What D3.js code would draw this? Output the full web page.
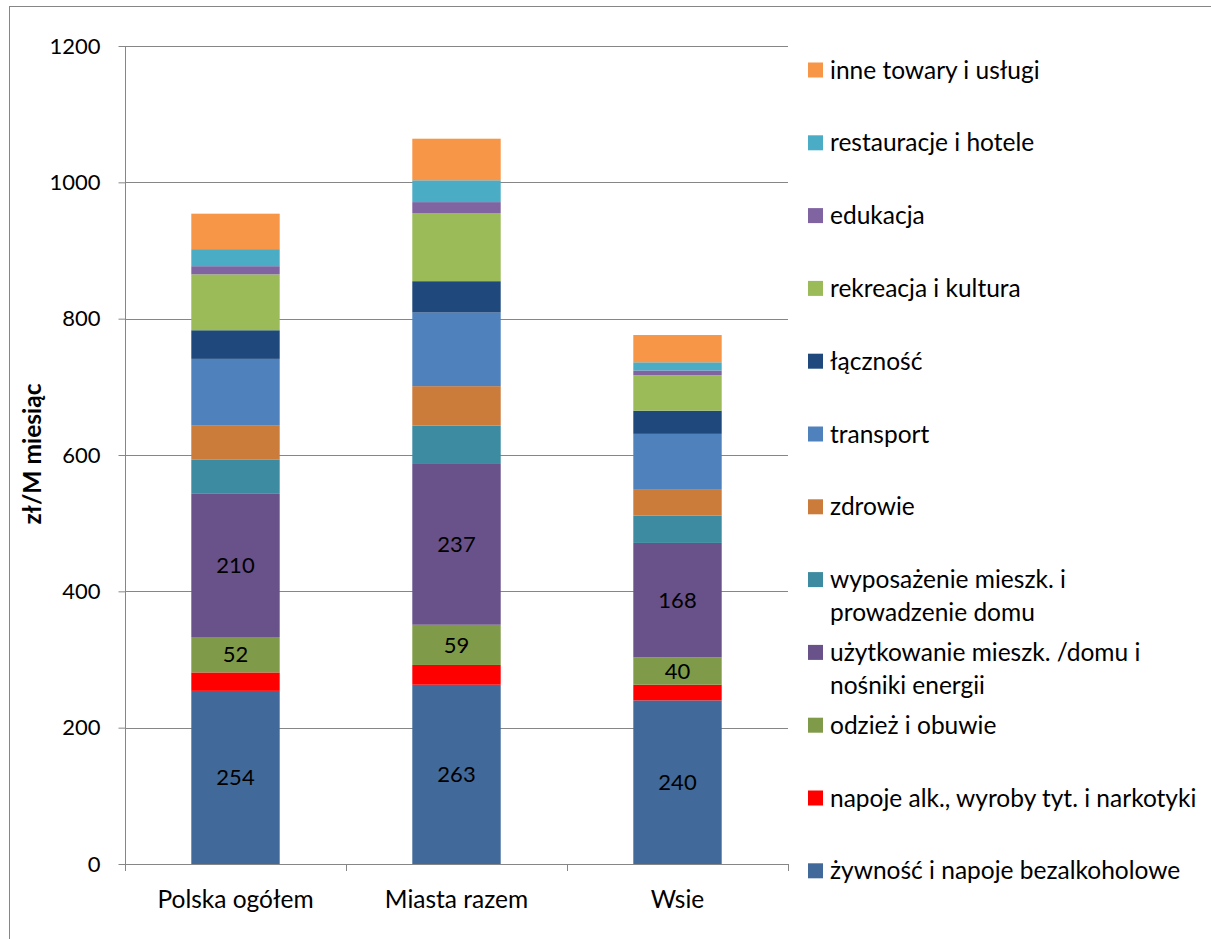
<!DOCTYPE html>
<html><head><meta charset="utf-8">
<script src="https://cdn.jsdelivr.net/npm/d3@7"></script>
<style>body{margin:0;background:#fff}svg{display:block}</style>
</head><body>
<svg id="chart" width="1211" height="939"></svg>
<script>
// ---- data ----
const categories = ["Polska ogółem", "Miasta razem", "Wsie"];
const yTicks = [0, 200, 400, 600, 800, 1000, 1200];
const seriesNames = [
  "żywność i napoje bezalkoholowe",
  "napoje alk., wyroby tyt. i narkotyki",
  "odzież i obuwie",
  "użytkowanie mieszk. /domu i nośniki energii",
  "wyposażenie mieszk. i prowadzenie domu",
  "zdrowie",
  "transport",
  "łączność",
  "rekreacja i kultura",
  "edukacja",
  "restauracje i hotele",
  "inne towary i usługi"
];
const legendLines = [
  ["żywność i napoje bezalkoholowe"],
  ["napoje alk., wyroby tyt. i narkotyki"],
  ["odzież i obuwie"],
  ["użytkowanie mieszk. /domu i", "nośniki energii"],
  ["wyposażenie mieszk. i", "prowadzenie domu"],
  ["zdrowie"],
  ["transport"],
  ["łączność"],
  ["rekreacja i kultura"],
  ["edukacja"],
  ["restauracje i hotele"],
  ["inne towary i usługi"]
];
const zywnosc     = [254, 263, 240];
const alkohol     = [27, 29, 23];
const odziez      = [52, 59, 40];
const uzytkowanie = [210, 237, 168];
const wyposazenie = [50, 55, 40];
const zdrowie     = [50, 58, 38];
const transport   = [98, 108, 82];
const lacznosc    = [42, 46, 34];
const rekreacja   = [82, 100, 52];
const edukacja    = [12, 16, 7];
const restauracje = [25, 32, 12];
const inne        = [52, 61, 40];
const seriesValues = [zywnosc, alkohol, odziez, uzytkowanie, wyposazenie, zdrowie,
  transport, lacznosc, rekreacja, edukacja, restauracje, inne];
const labelledSeries = [0, 2, 3];
const colors = ["#41699A", "#FF0000", "#7F9A48", "#69518A", "#3C8BA0", "#CB7B3A",
  "#4F81BD", "#1F497D", "#9BBB59", "#8064A2", "#4BACC6", "#F79646"];

// ---- layout ----
const FONT = "Lato, 'Open Sans', sans-serif";
const svg = d3.select("#chart");
const plot = {left: 125, right: 788, top: 46, bottom: 864};

svg.append("rect").attr("x", 9.5).attr("y", 6.5).attr("width", 1230).attr("height", 960)
  .attr("fill", "none").attr("stroke", "#868686").attr("stroke-width", 1);

const x = d3.scaleBand().domain(categories).range([plot.left, plot.right]).padding(0);
const y = d3.scaleLinear().domain([0, 1200]).range([plot.bottom, plot.top]);
const barW = x.bandwidth() * 0.4;

// gridlines
svg.append("g").selectAll("line").data(yTicks.filter(d => d > 0)).join("line")
  .attr("x1", plot.left).attr("x2", plot.right)
  .attr("y1", d => Math.round(y(d)) + 0.5).attr("y2", d => Math.round(y(d)) + 0.5)
  .attr("stroke", "#868686").attr("stroke-width", 1);

// stacked data
const rows = categories.map((c, i) => {
  const r = {cat: c};
  seriesNames.forEach((s, j) => r[s] = seriesValues[j][i]);
  return r;
});
const stacked = d3.stack().keys(seriesNames)(rows);

svg.append("g").selectAll("g").data(stacked).join("g")
  .attr("fill", (d, i) => colors[i])
  .selectAll("rect").data(d => d).join("rect")
  .attr("x", d => x(d.data.cat) + (x.bandwidth() - barW) / 2)
  .attr("width", barW)
  .attr("y", d => y(d[1]))
  .attr("height", d => y(d[0]) - y(d[1]));

// data labels
labelledSeries.forEach(si => {
  svg.append("g").selectAll("text").data(stacked[si]).join("text")
    .attr("x", d => x(d.data.cat) + x.bandwidth() / 2)
    .attr("y", d => y((d[0] + d[1]) / 2))
    .attr("dy", "0.35em")
    .attr("text-anchor", "middle")
    .attr("font-family", FONT).attr("font-size", 22).attr("fill", "#000")
    .text(d => d[1] - d[0]);
});

// y axis
const yAxis = svg.append("g").attr("transform", `translate(${plot.left + 0.5},0)`)
  .call(d3.axisLeft(y).tickValues(yTicks).tickSize(7).tickPadding(18).tickFormat(d3.format("d")));
yAxis.select(".domain").attr("d", `M0,${plot.top}V${plot.bottom + 7}`).attr("stroke", "#868686");
yAxis.selectAll(".tick line").attr("stroke", "#868686");
yAxis.selectAll(".tick text").attr("font-family", FONT).attr("font-size", 22).attr("fill", "#000");

// x axis
const xg = svg.append("g");
xg.append("line").attr("x1", plot.left).attr("x2", plot.right)
  .attr("y1", plot.bottom + 0.5).attr("y2", plot.bottom + 0.5).attr("stroke", "#868686");
const edges = categories.map(c => x(c)).concat([x(categories[categories.length - 1]) + x.bandwidth()]);
xg.selectAll("line.t").data(edges).join("line").attr("class", "t")
  .attr("x1", d => Math.round(d) + 0.5).attr("x2", d => Math.round(d) + 0.5)
  .attr("y1", plot.bottom).attr("y2", plot.bottom + 7).attr("stroke", "#868686");
xg.selectAll("text").data(categories).join("text")
  .attr("x", d => x(d) + x.bandwidth() / 2).attr("y", 899).attr("dy", "0.35em")
  .attr("text-anchor", "middle").attr("font-family", FONT).attr("font-size", 24.5)
  .text(d => d);

// y title
svg.append("text").attr("transform", "translate(32,454) rotate(-90)")
  .attr("text-anchor", "middle").attr("dy", "0.35em").attr("font-family", FONT).attr("font-weight", "bold")
  .attr("font-size", 24.5).text("zł/M miesiąc");

// legend
const legendOrder = d3.range(seriesNames.length).reverse();
const lg = svg.append("g");
legendOrder.forEach((si, k) => {
  const cy = 70 + 72.8 * k;
  lg.append("rect").attr("x", 808).attr("y", cy - 7.5).attr("width", 15).attr("height", 15)
    .attr("fill", colors[si]);
  legendLines[si].forEach((line, li) => {
    lg.append("text").attr("x", 830).attr("y", cy + li * 33).attr("dy", "0.35em")
      .attr("font-family", FONT).attr("font-size", 24.5).text(line);
  });
});
</script>
</body></html>
